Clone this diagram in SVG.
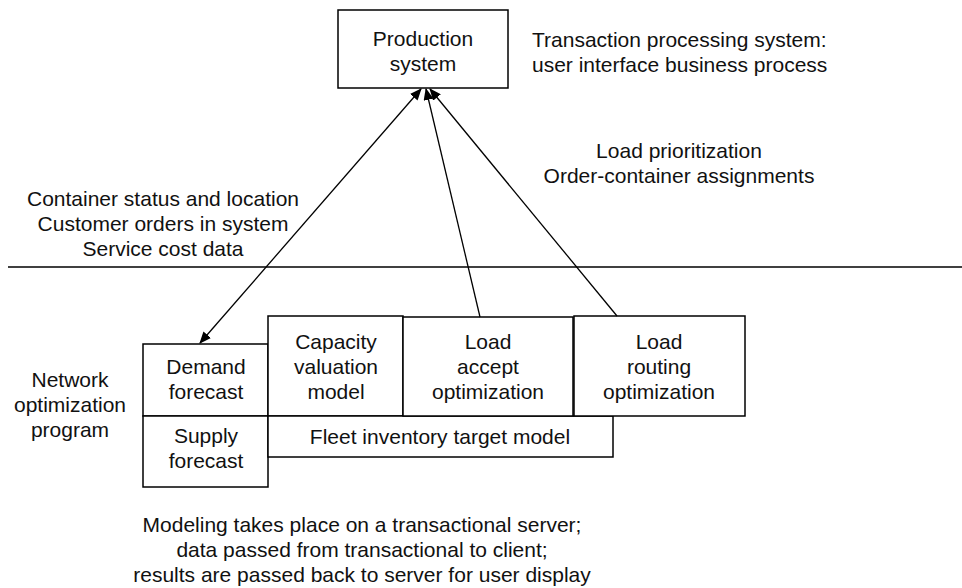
<svg xmlns="http://www.w3.org/2000/svg" width="962" height="588" viewBox="0 0 962 588">
  <style>
    .box { fill: #fff; stroke: #000; stroke-width: 1.5; }
    .t { font-family: "Liberation Sans", Arial, sans-serif; font-size: 21px; fill: #111; text-anchor: middle; }
    .ts { font-family: "Liberation Sans", Arial, sans-serif; font-size: 21px; fill: #111; }
    .link { stroke: #000; stroke-width: 1.3; fill: none; }
  </style>
  <defs>
    <marker id="arrow" viewBox="0 0 12 10" refX="11" refY="5" markerWidth="12" markerHeight="10" markerUnits="userSpaceOnUse" orient="auto-start-reverse">
      <path d="M0,0 L12,5 L0,10 Z" fill="#000"/>
    </marker>
  </defs>

  <rect width="962" height="588" fill="#fff"/>

  <!-- divider between transaction system and optimization program -->
  <line x1="8" y1="267" x2="962" y2="267" stroke="#000" stroke-width="1.3"/>

  <g id="production">
    <rect class="box" x="338" y="10" width="170" height="78"/>
    <text class="t" x="423" y="46">Production</text>
    <text class="t" x="423" y="71">system</text>
  </g>

  <g id="tps-note">
    <text class="ts" x="532" y="47">Transaction processing system:</text>
    <text class="ts" x="532" y="72">user interface business process</text>
  </g>

  <g id="upload-note">
    <text class="t" x="679" y="158">Load prioritization</text>
    <text class="t" x="679" y="183">Order-container assignments</text>
  </g>

  <g id="download-note">
    <text class="t" x="163" y="206">Container status and location</text>
    <text class="t" x="163" y="231">Customer orders in system</text>
    <text class="t" x="163" y="256">Service cost data</text>
  </g>

  <g id="network-label">
    <text class="t" x="70" y="387">Network</text>
    <text class="t" x="70" y="412">optimization</text>
    <text class="t" x="70" y="437">program</text>
  </g>

  <g id="demand">
    <rect class="box" x="143" y="344" width="125" height="72"/>
    <text class="t" x="206" y="374">Demand</text>
    <text class="t" x="206" y="399">forecast</text>
  </g>

  <g id="supply">
    <rect class="box" x="143" y="416" width="125" height="71"/>
    <text class="t" x="206" y="443">Supply</text>
    <text class="t" x="206" y="468">forecast</text>
  </g>

  <g id="capacity">
    <rect class="box" x="268" y="316" width="135" height="100"/>
    <text class="t" x="336" y="349">Capacity</text>
    <text class="t" x="336" y="374">valuation</text>
    <text class="t" x="336" y="399">model</text>
  </g>

  <g id="fleet">
    <rect class="box" x="268" y="416" width="345" height="41"/>
    <text class="t" x="440" y="444">Fleet inventory target model</text>
  </g>

  <g id="load-accept">
    <rect class="box" x="403" y="317" width="170" height="99"/>
    <text class="t" x="488" y="349">Load</text>
    <text class="t" x="488" y="374">accept</text>
    <text class="t" x="488" y="399">optimization</text>
  </g>

  <g id="load-routing">
    <rect class="box" x="574" y="316" width="171" height="100"/>
    <text class="t" x="659" y="349">Load</text>
    <text class="t" x="659" y="374">routing</text>
    <text class="t" x="659" y="399">optimization</text>
  </g>

  <g id="bottom-note">
    <text class="t" x="362" y="532">Modeling takes place on a transactional server;</text>
    <text class="t" x="362" y="557">data passed from transactional to client;</text>
    <text class="t" x="362" y="582">results are passed back to server for user display</text>
  </g>

  <g id="connectors">
    <line class="link" x1="200" y1="343" x2="421" y2="89" marker-start="url(#arrow)" marker-end="url(#arrow)"/>
    <line class="link" x1="480" y1="317" x2="426" y2="89" marker-end="url(#arrow)"/>
    <line class="link" x1="617" y1="316" x2="430" y2="89" marker-end="url(#arrow)"/>
  </g>
</svg>
